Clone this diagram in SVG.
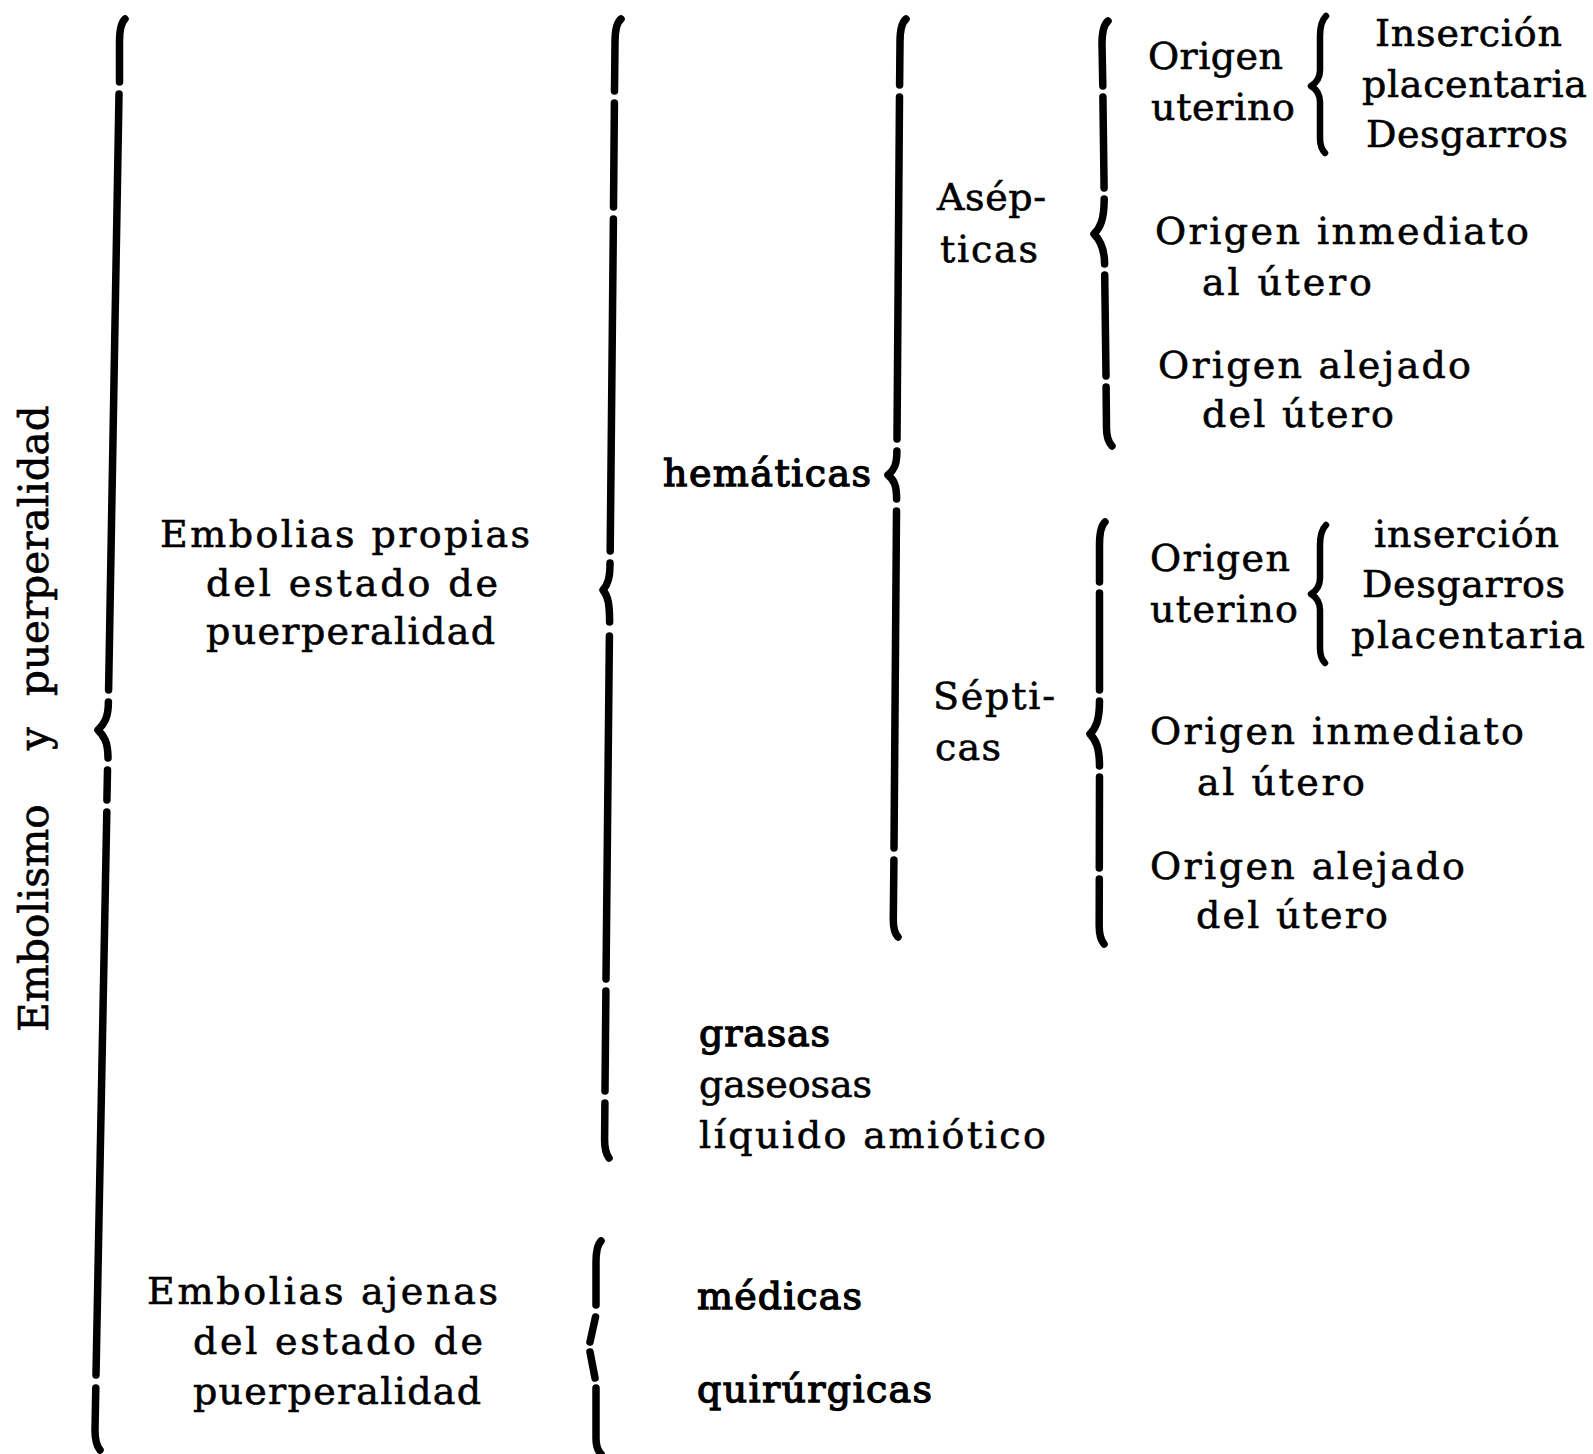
<svg xmlns="http://www.w3.org/2000/svg" width="1593" height="1454" viewBox="0 0 1593 1454">
<style>
.t{font-family:"DejaVu Serif","Liberation Serif",serif;font-size:38px;fill:#000;stroke:#000;stroke-width:0.6px}
.b{stroke-width:1.3px}
.v{font-size:40.5px}
.br{fill:none;stroke:#000;stroke-width:7.5;stroke-linecap:round;stroke-linejoin:round}
.sb{stroke-width:6.5}
</style>
<rect width="1593" height="1454" fill="#fff"/>
<g id="connectors">
  <path id="brace-root" class="br" d="M125 19 Q119.5 24 119.5 42 L119.5 82 M119 94 L108.6 690 M108.4 702 C108.4 718 104 724 98 730 C104 736 108 742 108 758 M107.5 770 L106.9 800 M106.8 812 L96 1375 M95.8 1388 L95 1430 Q95 1444 100 1450"/>
  <path id="brace-propias" class="br" d="M621 19 Q615 24 615 42 L614.5 91 M614.4 103 L613.5 207 M613.4 219 L610.2 551 M610 563 C610 578 608 584 603 590 C608 596 609.6 604 609.6 622 M609.4 636 L606 979 M605.9 991 L605 1091 M604.9 1103 L604.6 1140 Q604.6 1152 609 1158"/>
  <path id="brace-hematicas" class="br" d="M906 19 Q900 24 900 42 L899.6 85 M899.5 97 L897 439 M896.9 451 C896.9 465 894 470 888 475 C894 480 896.6 485 896.6 499 M896.5 511 L894 848 M893.9 860 L893.3 920 Q893.3 932 898 937"/>
  <path id="brace-asepticas" class="br" d="M1108 21 Q1102 26 1102 44 L1102.8 86 M1102.9 97 L1104.1 188 M1104.2 199 C1104.2 220 1100 228 1094 234 C1100 240 1104.6 248 1104.6 264 M1104.7 275 L1106 376 M1106.1 387 L1106.5 428 Q1106.5 440 1112 446"/>
  <path id="brace-aseptica-uterino" class="br sb" d="M1326 16 Q1320 22 1320 36 L1320 70 C1320 78 1316 83 1311 86 C1316 89 1320 94 1320 102 L1320 138 Q1320 148 1325 153"/>
  <path id="brace-septicas" class="br" d="M1105 522 Q1099.5 527 1099.5 545 L1099.5 582 M1099.5 593 L1099.5 690 M1099.5 701 C1099.5 720 1096 728 1090 734 C1096 740 1099.5 748 1099.5 766 M1099.5 777 L1099.3 868 M1099.3 879 L1099.2 926 Q1099.2 938 1104 944"/>
  <path id="brace-septica-uterino" class="br sb" d="M1326 525 Q1320 531 1320 545 L1320 578 C1320 586 1316 591 1311 594 C1316 597 1320 602 1320 610 L1320 648 Q1320 658 1325 663"/>
  <path id="brace-ajenas" class="br" d="M601 1241 Q596 1246 596 1262 L596 1305 M595.5 1317 L590 1342 M590 1352 L595 1378 M596 1388 L596 1438 Q596 1449 601 1454"/>
</g>
<g id="root">
  <text class="t v" transform="translate(48,1032) rotate(-90)"><tspan x="0">Embolismo</tspan><tspan x="282">y</tspan><tspan x="336">puerperalidad</tspan></text>
</g>
<g id="propias">
  <text class="t" x="160" y="547" textLength="370" lengthAdjust="spacing">Embolias propias</text>
  <text class="t" x="206" y="596" textLength="292" lengthAdjust="spacing">del estado de</text>
  <text class="t" x="206" y="644" textLength="289" lengthAdjust="spacing">puerperalidad</text>
</g>
<g id="hematicas">
  <text class="t b" x="663" y="486" textLength="208" lengthAdjust="spacing">hemáticas</text>
</g>
<g id="asepticas">
  <text class="t" x="937" y="210" textLength="109" lengthAdjust="spacing">Asép-</text>
  <text class="t" x="940" y="262" textLength="98" lengthAdjust="spacing">ticas</text>
</g>
<g id="aseptica-uterino">
  <text class="t" x="1148" y="69" textLength="135" lengthAdjust="spacing">Origen</text>
  <text class="t" x="1151" y="120" textLength="144" lengthAdjust="spacing">uterino</text>
</g>
<g id="aseptica-uterino-items">
  <text class="t" x="1375" y="46" textLength="187" lengthAdjust="spacing">Inserción</text>
  <text class="t" x="1362" y="97" textLength="225" lengthAdjust="spacing">placentaria</text>
  <text class="t" x="1366" y="147" textLength="202" lengthAdjust="spacing">Desgarros</text>
</g>
<g id="aseptica-inmediato">
  <text class="t" x="1155" y="244" textLength="374" lengthAdjust="spacing">Origen inmediato</text>
  <text class="t" x="1202" y="295" textLength="170" lengthAdjust="spacing">al útero</text>
</g>
<g id="aseptica-alejado">
  <text class="t" x="1158" y="378" textLength="313" lengthAdjust="spacing">Origen alejado</text>
  <text class="t" x="1202" y="427" textLength="192" lengthAdjust="spacing">del útero</text>
</g>
<g id="septicas">
  <text class="t" x="933" y="709" textLength="122" lengthAdjust="spacing">Sépti-</text>
  <text class="t" x="935" y="760" textLength="66" lengthAdjust="spacing">cas</text>
</g>
<g id="septica-uterino">
  <text class="t" x="1150" y="571" textLength="140" lengthAdjust="spacing">Origen</text>
  <text class="t" x="1150" y="622" textLength="148" lengthAdjust="spacing">uterino</text>
</g>
<g id="septica-uterino-items">
  <text class="t" x="1374" y="547" textLength="185" lengthAdjust="spacing">inserción</text>
  <text class="t" x="1362" y="597" textLength="203" lengthAdjust="spacing">Desgarros</text>
  <text class="t" x="1351" y="648" textLength="234" lengthAdjust="spacing">placentaria</text>
</g>
<g id="septica-inmediato">
  <text class="t" x="1150" y="744" textLength="374" lengthAdjust="spacing">Origen inmediato</text>
  <text class="t" x="1197" y="795" textLength="168" lengthAdjust="spacing">al útero</text>
</g>
<g id="septica-alejado">
  <text class="t" x="1150" y="879" textLength="315" lengthAdjust="spacing">Origen alejado</text>
  <text class="t" x="1196" y="928" textLength="192" lengthAdjust="spacing">del útero</text>
</g>
<g id="otras-propias">
  <text class="t b" x="699" y="1046" textLength="131" lengthAdjust="spacing">grasas</text>
  <text class="t" x="699" y="1097" textLength="173" lengthAdjust="spacing">gaseosas</text>
  <text class="t" x="699" y="1148" textLength="347" lengthAdjust="spacing">líquido amiótico</text>
</g>
<g id="ajenas">
  <text class="t" x="147" y="1304" textLength="351" lengthAdjust="spacing">Embolias ajenas</text>
  <text class="t" x="193" y="1354" textLength="290" lengthAdjust="spacing">del estado de</text>
  <text class="t" x="193" y="1404" textLength="288" lengthAdjust="spacing">puerperalidad</text>
</g>
<g id="medicas">
  <text class="t b" x="697" y="1309" textLength="165" lengthAdjust="spacing">médicas</text>
</g>
<g id="quirurgicas">
  <text class="t b" x="697" y="1402" textLength="235" lengthAdjust="spacing">quirúrgicas</text>
</g>
</svg>
